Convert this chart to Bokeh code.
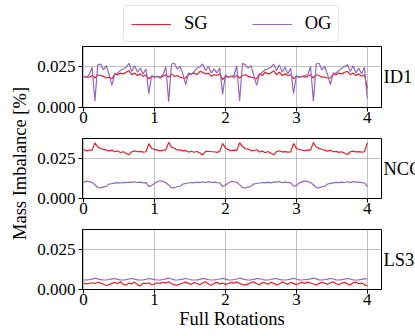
import numpy as np
from bokeh.plotting import figure
from bokeh.models import Range1d, FixedTicker, NumeralTickFormatter, Legend, LegendItem
from bokeh.layouts import row, column
from bokeh.embed import file_html
from bokeh.resources import INLINE
from bokeh.core.properties import value

# ---------------- data ----------------
panel_names = ["ID1", "NCC", "LS3"]
series_names = ["SG", "OG"]
x_ticks = [0, 1, 2, 3, 4]
y_ticks = [0.0, 0.025]
x_label = "Full Rotations"
y_label = "Mass Imbalance [%]"

id1_sg = [0.0190, 0.0185, 0.0185, 0.0195, 0.0180, 0.0200, 0.0195, 0.0190, 0.0180, 0.0185, 0.0175, 0.0205, 0.0200,
          0.0210, 0.0205, 0.0215, 0.0225, 0.0200, 0.0210, 0.0195, 0.0205, 0.0190, 0.0200, 0.0175, 0.0190, 0.0185,
          0.0190, 0.0180, 0.0190, 0.0200, 0.0185, 0.0205, 0.0190, 0.0195, 0.0185, 0.0180, 0.0180, 0.0200, 0.0205,
          0.0210, 0.0200, 0.0220, 0.0215, 0.0205, 0.0210, 0.0190, 0.0200, 0.0195, 0.0205, 0.0170, 0.0190,
          0.0185, 0.0190, 0.0185, 0.0195, 0.0180, 0.0195, 0.0200, 0.0190, 0.0185, 0.0180, 0.0175, 0.0205, 0.0195,
          0.0215, 0.0205, 0.0210, 0.0225, 0.0200, 0.0215, 0.0195, 0.0205, 0.0195, 0.0200, 0.0175, 0.0190, 0.0185,
          0.0190, 0.0185, 0.0190, 0.0200, 0.0180, 0.0200, 0.0195, 0.0185, 0.0185, 0.0180, 0.0180, 0.0205, 0.0200,
          0.0210, 0.0205, 0.0215, 0.0220, 0.0200, 0.0210, 0.0195, 0.0205, 0.0190, 0.0200, 0.0115]
id1_og = [0.0190, 0.0185, 0.0200, 0.0245, 0.0040, 0.0260, 0.0265, 0.0230, 0.0255, 0.0200, 0.0135, 0.0205, 0.0210,
          0.0225, 0.0235, 0.0245, 0.0270, 0.0220, 0.0255, 0.0215, 0.0240, 0.0205, 0.0235, 0.0085, 0.0195, 0.0185,
          0.0190, 0.0185, 0.0200, 0.0250, 0.0035, 0.0265, 0.0270, 0.0235, 0.0250, 0.0205, 0.0140, 0.0210, 0.0205,
          0.0220, 0.0240, 0.0250, 0.0265, 0.0225, 0.0250, 0.0210, 0.0235, 0.0210, 0.0240, 0.0080, 0.0200,
          0.0185, 0.0190, 0.0195, 0.0255, 0.0040, 0.0270, 0.0260, 0.0240, 0.0255, 0.0195, 0.0135, 0.0200, 0.0215,
          0.0230, 0.0235, 0.0245, 0.0265, 0.0225, 0.0260, 0.0215, 0.0245, 0.0205, 0.0240, 0.0085, 0.0195, 0.0185,
          0.0190, 0.0195, 0.0200, 0.0250, 0.0038, 0.0265, 0.0270, 0.0230, 0.0250, 0.0200, 0.0140, 0.0210, 0.0210,
          0.0225, 0.0240, 0.0250, 0.0260, 0.0220, 0.0255, 0.0210, 0.0240, 0.0205, 0.0245, 0.0055]

ncc_sg = [0.0305, 0.0295, 0.0300, 0.0300, 0.0345, 0.0320, 0.0310, 0.0305, 0.0300, 0.0295, 0.0300, 0.0290, 0.0295,
          0.0285, 0.0290, 0.0280, 0.0272, 0.0290, 0.0295, 0.0290, 0.0292, 0.0288, 0.0290, 0.0340, 0.0310, 0.0305,
          0.0300, 0.0295, 0.0300, 0.0302, 0.0348, 0.0318, 0.0312, 0.0300, 0.0302, 0.0295, 0.0298, 0.0288, 0.0293,
          0.0287, 0.0292, 0.0282, 0.0270, 0.0292, 0.0293, 0.0290, 0.0290, 0.0286, 0.0292, 0.0342, 0.0312,
          0.0303, 0.0297, 0.0300, 0.0298, 0.0346, 0.0322, 0.0308, 0.0306, 0.0298, 0.0296, 0.0302, 0.0288, 0.0294,
          0.0284, 0.0291, 0.0281, 0.0271, 0.0291, 0.0296, 0.0289, 0.0291, 0.0287, 0.0289, 0.0341, 0.0311, 0.0304,
          0.0300, 0.0296, 0.0301, 0.0300, 0.0347, 0.0319, 0.0311, 0.0304, 0.0300, 0.0294, 0.0299, 0.0290, 0.0292,
          0.0286, 0.0290, 0.0281, 0.0273, 0.0290, 0.0294, 0.0289, 0.0291, 0.0287, 0.0290, 0.0345]
ncc_og = [0.0100, 0.0108, 0.0105, 0.0100, 0.0085, 0.0068, 0.0066, 0.0072, 0.0075, 0.0090, 0.0092, 0.0095, 0.0098,
          0.0096, 0.0100, 0.0098, 0.0102, 0.0100, 0.0104, 0.0099, 0.0102, 0.0097, 0.0098, 0.0075, 0.0080, 0.0095,
          0.0104, 0.0110, 0.0106, 0.0098, 0.0084, 0.0066, 0.0067, 0.0073, 0.0076, 0.0089, 0.0093, 0.0096, 0.0099,
          0.0097, 0.0101, 0.0099, 0.0103, 0.0099, 0.0105, 0.0100, 0.0101, 0.0098, 0.0097, 0.0074, 0.0082,
          0.0096, 0.0107, 0.0104, 0.0101, 0.0086, 0.0067, 0.0065, 0.0071, 0.0076, 0.0091, 0.0093, 0.0096, 0.0099,
          0.0097, 0.0101, 0.0097, 0.0103, 0.0101, 0.0105, 0.0098, 0.0101, 0.0098, 0.0099, 0.0076, 0.0081, 0.0096,
          0.0103, 0.0109, 0.0105, 0.0099, 0.0085, 0.0068, 0.0066, 0.0073, 0.0075, 0.0090, 0.0094, 0.0097, 0.0100,
          0.0098, 0.0102, 0.0099, 0.0104, 0.0100, 0.0105, 0.0101, 0.0102, 0.0098, 0.0097, 0.0074]

ls3_sg = [0.0040, 0.0035, 0.0038, 0.0042, 0.0037, 0.0045, 0.0040, 0.0033, 0.0025, 0.0030, 0.0038, 0.0044, 0.0036,
          0.0048, 0.0032, 0.0028, 0.0040, 0.0035, 0.0046, 0.0030, 0.0022, 0.0040, 0.0036, 0.0042, 0.0030, 0.0034,
          0.0042, 0.0038, 0.0045, 0.0040, 0.0048, 0.0036, 0.0030, 0.0026, 0.0034, 0.0040, 0.0046, 0.0038, 0.0032,
          0.0044, 0.0036, 0.0030, 0.0042, 0.0048, 0.0034, 0.0026, 0.0038, 0.0044, 0.0035, 0.0040, 0.0032,
          0.0036, 0.0044, 0.0040, 0.0047, 0.0038, 0.0032, 0.0027, 0.0035, 0.0042, 0.0048, 0.0036, 0.0030, 0.0044,
          0.0040, 0.0033, 0.0045, 0.0038, 0.0028, 0.0036, 0.0046, 0.0040, 0.0032, 0.0044, 0.0038, 0.0030, 0.0040,
          0.0044, 0.0038, 0.0046, 0.0040, 0.0034, 0.0028, 0.0038, 0.0045, 0.0040, 0.0032, 0.0042, 0.0048, 0.0036,
          0.0030, 0.0040, 0.0044, 0.0035, 0.0028, 0.0042, 0.0046, 0.0036, 0.0040, 0.0030, 0.0022]
ls3_og = [0.0060, 0.0059, 0.0061, 0.0064, 0.0070, 0.0066, 0.0061, 0.0059, 0.0060, 0.0062, 0.0066, 0.0068, 0.0063,
          0.0060, 0.0059, 0.0061, 0.0065, 0.0069, 0.0064, 0.0060, 0.0059, 0.0060, 0.0063, 0.0068, 0.0066, 0.0061,
          0.0059, 0.0060, 0.0062, 0.0066, 0.0071, 0.0065, 0.0060, 0.0059, 0.0061, 0.0064, 0.0068, 0.0065, 0.0060,
          0.0059, 0.0060, 0.0063, 0.0069, 0.0066, 0.0061, 0.0059, 0.0060, 0.0062, 0.0065, 0.0069, 0.0064,
          0.0060, 0.0059, 0.0061, 0.0065, 0.0070, 0.0066, 0.0061, 0.0059, 0.0060, 0.0063, 0.0067, 0.0068, 0.0062,
          0.0059, 0.0060, 0.0062, 0.0066, 0.0069, 0.0063, 0.0060, 0.0059, 0.0061, 0.0064, 0.0069, 0.0065, 0.0060,
          0.0059, 0.0061, 0.0063, 0.0066, 0.0071, 0.0066, 0.0060, 0.0059, 0.0061, 0.0064, 0.0068, 0.0065, 0.0060,
          0.0059, 0.0061, 0.0064, 0.0069, 0.0065, 0.0060, 0.0059, 0.0060, 0.0063, 0.0066, 0.0068]

# ---------------- style ----------------
FONT = "Liberation Serif"
TICK_SIZE = "17px"
TEXT_SIZE = "18.5px"
SG_COLOR = "#e4202a"
OG_COLOR = "#9467bd"
GRID = "#b0b0b0"
Y_RANGE = (0.0, 0.0372)
X_RANGE = (-0.015, 4.2)
LABEL_Y = 0.0186


def bare(fig):
    fig.axis.visible = False
    fig.grid.visible = False
    fig.outline_line_color = None
    fig.background_fill_color = None
    fig.border_fill_color = None
    return fig


def make_panel(sg, og, name, height, top, bottom, with_xlabel=False):
    yr = Range1d(*Y_RANGE)
    p = figure(width=352, height=height, output_backend="svg", toolbar_location=None,
               x_range=Range1d(*X_RANGE), y_range=yr,
               min_border_left=52, min_border_right=1, min_border_top=top, min_border_bottom=bottom)
    p.line(np.linspace(0, 4, len(sg)), sg, line_color=SG_COLOR, line_width=1.2)
    p.line(np.linspace(0, 4, len(og)), og, line_color=OG_COLOR, line_width=1.2)

    p.xaxis.ticker = FixedTicker(ticks=x_ticks)
    p.yaxis.ticker = FixedTicker(ticks=y_ticks)
    p.xgrid.ticker = FixedTicker(ticks=x_ticks)
    p.ygrid.ticker = FixedTicker(ticks=y_ticks)
    p.yaxis.formatter = NumeralTickFormatter(format="0.000")
    p.axis.major_label_text_font = FONT
    p.axis.major_label_text_font_size = TICK_SIZE
    p.axis.major_label_text_color = "black"
    p.axis.minor_tick_line_color = None
    p.axis.major_tick_in = 0
    p.axis.major_tick_out = 4
    p.axis.major_tick_line_color = "black"
    p.axis.axis_line_color = "black"
    p.xaxis.major_label_standoff = 0
    p.yaxis.major_label_standoff = 3
    if with_xlabel:
        p.xaxis.axis_label = x_label
        p.xaxis.axis_label_text_font = FONT
        p.xaxis.axis_label_text_font_size = TEXT_SIZE
        p.xaxis.axis_label_text_font_style = "normal"
        p.xaxis.axis_label_text_color = "black"
        p.xaxis.axis_label_standoff = 1
    p.grid.grid_line_color = GRID
    p.grid.grid_line_width = 0.8
    p.outline_line_color = "black"
    p.outline_line_width = 1
    p.outline_line_alpha = 1.0
    p.background_fill_color = "white"
    p.border_fill_color = "white"

    # right-hand panel name, sharing the panel's y range
    r = figure(width=33, height=height, output_backend="svg", toolbar_location=None,
               x_range=Range1d(0, 1), y_range=yr,
               min_border_left=0, min_border_right=0, min_border_top=top, min_border_bottom=bottom)
    bare(r)
    r.text(x=[0.03], y=[LABEL_Y], text=[name], text_align="left", text_baseline="middle",
           text_font=value(FONT), text_font_size=value(TEXT_SIZE), text_color="black")
    return row(p, r)


row1 = make_panel(id1_sg, id1_og, panel_names[0], 85, 0, 24)
row2 = make_panel(ncc_sg, ncc_og, panel_names[1], 91, 7, 24)
row3 = make_panel(ls3_sg, ls3_og, panel_names[2], 114, 7, 47, with_xlabel=True)

# legend strip on top (its two key lines sit outside the visible range)
leg = figure(width=385, height=46, output_backend="svg", toolbar_location=None,
             x_range=Range1d(0, 1), y_range=Range1d(0, 1),
             min_border_left=52, min_border_right=34, min_border_top=0, min_border_bottom=0)
bare(leg)
l_sg = leg.line(x=[-5, -4], y=[-5, -5], line_color=SG_COLOR, line_width=1.2)
l_og = leg.line(x=[-5, -4], y=[-5, -5], line_color=OG_COLOR, line_width=1.2)
legend = Legend(items=[LegendItem(label=series_names[0], renderers=[l_sg]),
                       LegendItem(label=series_names[1], renderers=[l_og])],
                orientation="horizontal", location=(41, 4))
legend.label_text_font = FONT
legend.label_text_font_size = TEXT_SIZE
legend.label_text_color = "black"
legend.glyph_width = 40
legend.glyph_height = 20
legend.label_height = 20
legend.label_standoff = 13
legend.spacing = 44
legend.padding = 7
legend.margin = 0
legend.border_line_color = "#cccccc"
legend.border_line_width = 1
legend.background_fill_alpha = 0.8
if "border_radius" in Legend.properties():
    legend.border_radius = 4
leg.add_layout(legend)

# rotated y label on the left
lab = figure(width=30, height=336, output_backend="svg", toolbar_location=None,
             x_range=Range1d(0, 1), y_range=Range1d(0, 1),
             min_border_left=0, min_border_right=0, min_border_top=0, min_border_bottom=0)
bare(lab)
lab.text(x=[0.65], y=[0.515], text=[y_label], angle=np.pi / 2, text_font=value(FONT),
         text_font_size=value(TEXT_SIZE), text_align="center", text_baseline="middle", text_color="black")

layout = row(lab, column(leg, row1, row2, row3))
open("out.html", "w").write(file_html(layout, INLINE))
